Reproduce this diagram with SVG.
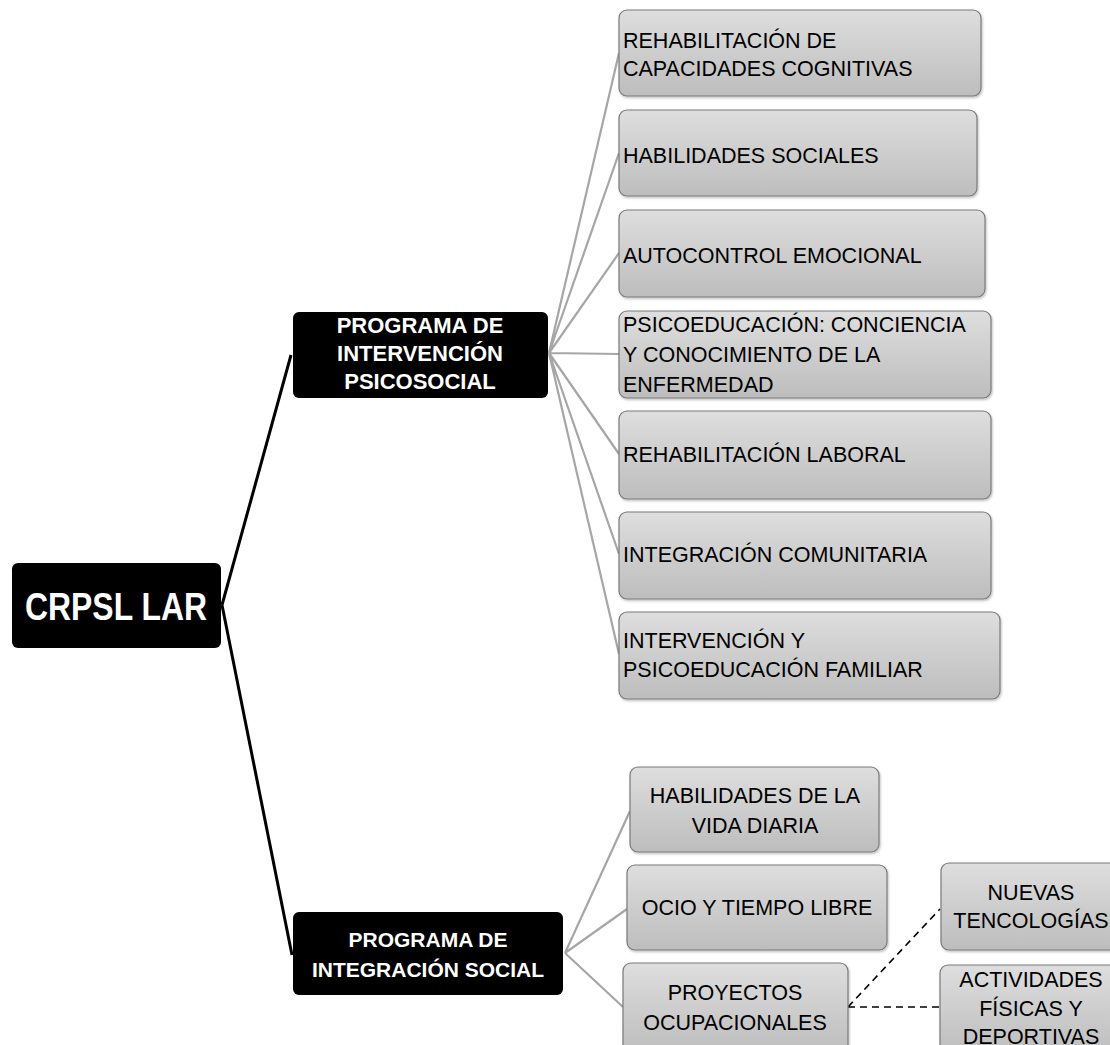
<svg xmlns="http://www.w3.org/2000/svg" width="1110" height="1045" viewBox="0 0 1110 1045">
<defs>
<linearGradient id="gray" x1="0" y1="0" x2="0" y2="1">
<stop offset="0" stop-color="#dedede"/>
<stop offset="1" stop-color="#bdbdbd"/>
</linearGradient>
<filter id="sh" x="-5%" y="-5%" width="110%" height="120%">
<feDropShadow dx="1" dy="1.5" stdDeviation="1" flood-color="#000" flood-opacity="0.25"/>
</filter>
</defs>
<style>
.g{fill:url(#gray);stroke:#7a7a7a;stroke-width:1.2;filter:url(#sh)}
.b{fill:#000}
.t{font-family:"Liberation Sans",Arial,sans-serif;font-size:21.5px;fill:#000}
.tc{font-family:"Liberation Sans",Arial,sans-serif;font-size:21.5px;fill:#000;text-anchor:middle}
.w{font-family:"Liberation Sans",Arial,sans-serif;font-size:21px;font-weight:bold;fill:#fff;text-anchor:middle}
.main{fill:none;stroke:#000;stroke-width:3}
.sub{fill:none;stroke:#a6a6a6;stroke-width:2.2}
.dash{fill:none;stroke:#000;stroke-width:1.6;stroke-dasharray:7 5}
</style>
<g id="connectors">
<path class="main" d="M222 605 L291 355 M222 605 L292 955"/>
<path class="sub" d="M549 353 L619 53 M549 353 L619 153 M549 353 L619 253 M549 353 L619 354 M549 353 L619 454 M549 353 L619 554 M549 353 L619 654"/>
<path class="sub" d="M565 953 L630 811 M565 953 L627 909 M565 953 L623 1007"/>
<path class="dash" d="M848 1007 L940 909 M848 1007 L940 1007"/>
</g>
<g id="root">
<rect class="b" x="12" y="563" width="209" height="85" rx="6"/>
<text class="w" x="116" y="620" style="font-size:39px" textLength="182" lengthAdjust="spacingAndGlyphs">CRPSL LAR</text>
</g>
<g id="prog1">
<rect class="b" x="293" y="312" width="255" height="86" rx="6"/>
<text class="w" x="420" y="333" style="font-size:22px">PROGRAMA DE</text>
<text class="w" x="420" y="361" style="font-size:22px">INTERVENCIÓN</text>
<text class="w" x="420" y="389" style="font-size:22px">PSICOSOCIAL</text>
</g>
<g id="prog2">
<rect class="b" x="293" y="912" width="270" height="83" rx="6"/>
<text class="w" x="428" y="947">PROGRAMA DE</text>
<text class="w" x="428" y="977">INTEGRACIÓN SOCIAL</text>
</g>
<g id="n1">
<rect class="g" x="619" y="10" width="362" height="86" rx="8"/>
<text class="t" x="623" y="48">REHABILITACIÓN DE</text>
<text class="t" x="623" y="76">CAPACIDADES COGNITIVAS</text>
</g>
<g id="n2">
<rect class="g" x="619" y="110" width="358" height="86" rx="8"/>
<text class="t" x="623" y="163">HABILIDADES SOCIALES</text>
</g>
<g id="n3">
<rect class="g" x="619" y="210" width="366" height="87" rx="8"/>
<text class="t" x="623" y="263">AUTOCONTROL EMOCIONAL</text>
</g>
<g id="n4">
<rect class="g" x="619" y="311" width="372" height="87" rx="8"/>
<text class="t" x="623" y="332">PSICOEDUCACIÓN: CONCIENCIA</text>
<text class="t" x="623" y="362">Y CONOCIMIENTO DE LA</text>
<text class="t" x="623" y="392">ENFERMEDAD</text>
</g>
<g id="n5">
<rect class="g" x="619" y="411" width="372" height="88" rx="8"/>
<text class="t" x="623" y="462">REHABILITACIÓN LABORAL</text>
</g>
<g id="n6">
<rect class="g" x="619" y="512" width="372" height="87" rx="8"/>
<text class="t" x="623" y="562">INTEGRACIÓN COMUNITARIA</text>
</g>
<g id="n7">
<rect class="g" x="619" y="612" width="381" height="87" rx="8"/>
<text class="t" x="623" y="648">INTERVENCIÓN Y</text>
<text class="t" x="623" y="677">PSICOEDUCACIÓN FAMILIAR</text>
</g>
<g id="n8">
<rect class="g" x="630" y="767" width="249" height="85" rx="8"/>
<text class="tc" x="755" y="803">HABILIDADES DE LA</text>
<text class="tc" x="755" y="833">VIDA DIARIA</text>
</g>
<g id="n9">
<rect class="g" x="627" y="865" width="260" height="85" rx="8"/>
<text class="tc" x="757" y="915">OCIO Y TIEMPO LIBRE</text>
</g>
<g id="n10">
<rect class="g" x="623" y="963" width="225" height="90" rx="8"/>
<text class="tc" x="735" y="1000">PROYECTOS</text>
<text class="tc" x="735" y="1030">OCUPACIONALES</text>
</g>
<g id="n11">
<rect class="g" x="941" y="863" width="180" height="87" rx="8"/>
<text class="tc" x="1031" y="900">NUEVAS</text>
<text class="tc" x="1031" y="928">TENCOLOGÍAS</text>
</g>
<g id="n12">
<rect class="g" x="940" y="965" width="181" height="90" rx="8"/>
<text class="tc" x="1031" y="987">ACTIVIDADES</text>
<text class="tc" x="1031" y="1016">FÍSICAS Y</text>
<text class="tc" x="1031" y="1044">DEPORTIVAS</text>
</g>
</svg>
